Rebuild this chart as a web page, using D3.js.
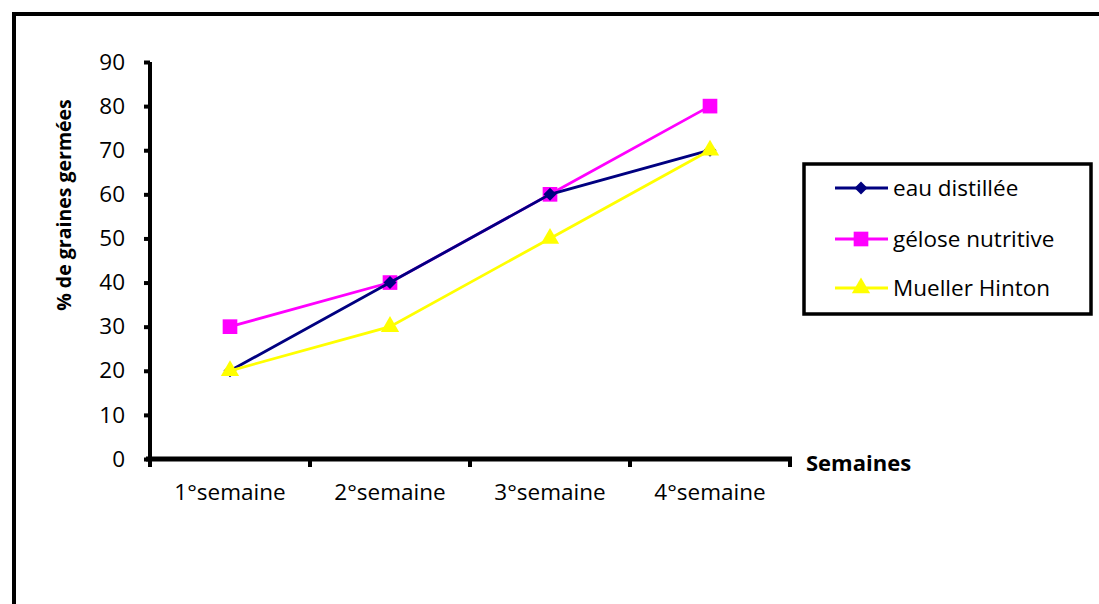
<!DOCTYPE html>
<html><head><meta charset="utf-8">
<script src="https://cdn.jsdelivr.net/npm/d3@7"></script>
<style>body{margin:0;background:#fff}svg{display:block}</style>
</head><body>
<svg id="c" width="1099" height="604"></svg>
<script>
const categories = ["1°semaine","2°semaine","3°semaine","4°semaine"];
const eauDistillee = [20,40,60,70];
const geloseNutritive = [30,40,60,80];
const muellerHinton = [20,30,50,70];
const yTicks = [0,10,20,30,40,50,60,70,80,90];
const seriesNames = ["eau distillée","gélose nutritive","Mueller Hinton"];
const series = [
  {name: seriesNames[0], values: eauDistillee, color: "#000080", sym: "diamond"},
  {name: seriesNames[1], values: geloseNutritive, color: "#FF00FF", sym: "square"},
  {name: seriesNames[2], values: muellerHinton, color: "#FFFF00", sym: "triangle"}
];
const font = "'Open Sans', sans-serif";
const fs = 22.5;
const svg = d3.select("#c");
// outer frame
svg.append("rect").attr("x",14).attr("y",14).attr("width",1200).attr("height",700)
  .attr("fill","none").attr("stroke","#000").attr("stroke-width",4);

const x = d3.scaleBand().domain(categories).range([150,790]);
const y = d3.scaleLinear().domain([0,90]).range([459,62]);

// y axis
const gy = svg.append("g").attr("transform","translate(150,0)")
  .call(d3.axisLeft(y).tickValues(yTicks).tickSize(6).tickPadding(19));
gy.select(".domain").attr("stroke","#000").attr("stroke-width",4).attr("d","M0,"+(y(90))+"V"+y(0));
gy.selectAll(".tick line").attr("stroke","#000").attr("stroke-width",4);
gy.selectAll(".tick text").attr("font-family",font).attr("font-size",fs).attr("fill","#000");

// x axis
const gx = svg.append("g").attr("transform","translate(0,"+y(0)+")")
  .call(d3.axisBottom(x).tickSize(0).tickPadding(25));
gx.select(".domain").attr("stroke","#000").attr("stroke-width",5).attr("d","M146,0H792");
gx.selectAll(".tick text").attr("font-family",font).attr("font-size",fs).attr("fill","#000");
// boundary ticks
const bounds = categories.map(c => x(c)).concat([x.range()[1]]);
gx.selectAll(".btick").data(bounds).enter().append("line")
  .attr("x1",d=>d).attr("x2",d=>d).attr("y1",0).attr("y2",8)
  .attr("stroke","#000").attr("stroke-width",4);

// axis titles
svg.append("text").attr("x",806).attr("y",471).attr("font-family",font)
  .attr("font-weight","bold").attr("font-size",22).text("Semaines");
svg.append("text").attr("transform","translate(71,205) rotate(-90)")
  .attr("text-anchor","middle").attr("font-family",font).attr("font-weight","bold")
  .attr("font-size",19.5).text("% de graines germées");

const cx = c => x(c) + x.bandwidth()/2;
const line = d3.line().x(d=>cx(d.c)).y(d=>y(d.v));
const symType = {diamond: d3.symbolSquare, square: d3.symbolSquare, triangle: d3.symbolTriangle};
const symSize = {diamond: 85, square: 215, triangle: 145};
const symRot = {diamond: 45, square: 0, triangle: 0};

const order = [1,0,2];
order.forEach(i => {
  const s = series[i];
  const pts = s.values.map((v,j)=>({c:categories[j], v}));
  svg.append("path").attr("d", line(pts)).attr("fill","none")
    .attr("stroke", s.color).attr("stroke-width",2.8);
  svg.selectAll(null).data(pts).enter().append("path")
    .attr("transform", d=>"translate("+cx(d.c)+","+y(d.v)+") rotate("+symRot[s.sym]+")")
    .attr("d", d3.symbol().type(symType[s.sym]).size(symSize[s.sym]))
    .attr("fill", s.color);
});

// legend
svg.append("rect").attr("x",804).attr("y",164).attr("width",287).attr("height",150)
  .attr("fill","#fff").attr("stroke","#000").attr("stroke-width",3.5);
const ly = [188,239,288];
series.forEach((s,i) => {
  const g = svg.append("g").attr("transform","translate(0,"+ly[i]+")");
  g.append("line").attr("x1",835).attr("x2",888).attr("y1",0).attr("y2",0)
    .attr("stroke", s.color).attr("stroke-width",2.8);
  g.append("path").attr("transform","translate(861,0) rotate("+symRot[s.sym]+")")
    .attr("d", d3.symbol().type(symType[s.sym]).size(symSize[s.sym]))
    .attr("fill", s.color);
  g.append("text").attr("x",893).attr("y",8).attr("font-family",font)
    .attr("font-size",fs).text(s.name);
});
</script>
</body></html>
